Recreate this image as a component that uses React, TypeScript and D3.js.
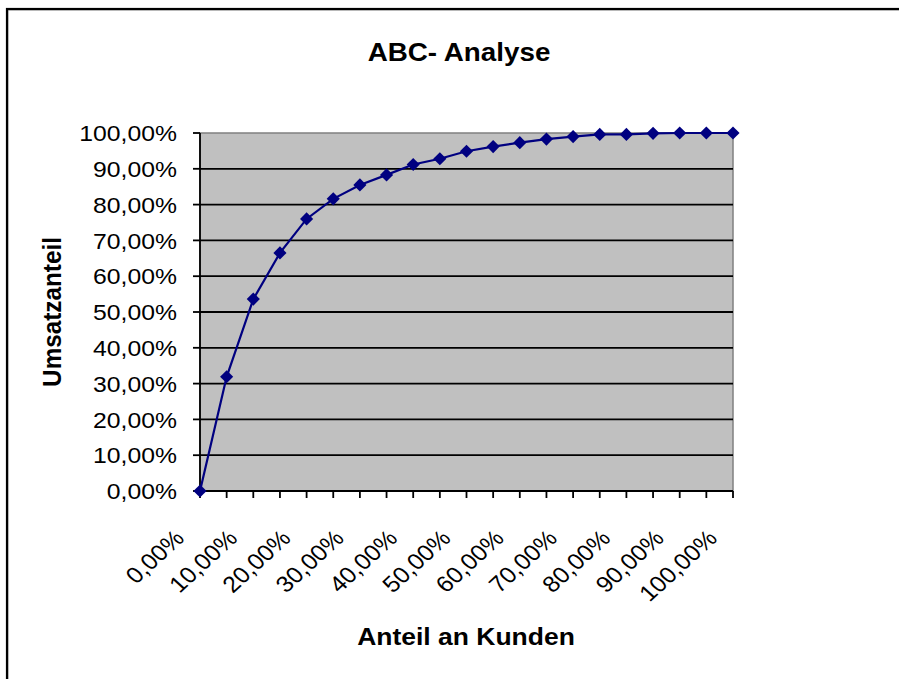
import React from "react";
import * as d3 from "d3";

const categories: string[] = [
  "0,00%", "5,00%", "10,00%", "15,00%", "20,00%", "25,00%", "30,00%", "35,00%", "40,00%", "45,00%",
  "50,00%", "55,00%", "60,00%", "65,00%", "70,00%", "75,00%", "80,00%", "85,00%", "90,00%", "95,00%", "100,00%",
];
const umsatzanteil: number[] = [
  0, 31.9, 53.6, 66.5, 76.0, 81.6, 85.5, 88.3, 91.2, 92.8, 94.9,
  96.2, 97.3, 98.3, 99.0, 99.6, 99.6, 99.9, 100, 100, 100,
];
const yTicks: number[] = [0, 10, 20, 30, 40, 50, 60, 70, 80, 90, 100];
const title = "ABC- Analyse";
const xTitle = "Anteil an Kunden";
const yTitle = "Umsatzanteil";

const W = 899;
const H = 679;
const plot = { left: 200, top: 133, right: 733, bottom: 491 };
const FONT = "'Liberation Sans', Arial, sans-serif";
const SX = 1.09;
const TICK_FS = 22.7;

export default function App() {
  const x = d3
    .scalePoint<string>()
    .domain(categories)
    .range([plot.left, plot.right]);
  const y = d3.scaleLinear().domain([0, 100]).range([plot.bottom, plot.top]);
  const line = d3
    .line<number>()
    .x((_, i) => x(categories[i]) as number)
    .y((d) => y(d));
  const fmt = (v: number) => v.toFixed(2).replace(".", ",") + "%";
  const diamond = d3.symbol().type(d3.symbolDiamond2).size(110)();

  return (
    <svg
      width={W}
      height={H}
      style={{ position: "absolute", left: 0, top: 0, background: "#fff" }}
    >
      <rect x={0} y={0} width={W} height={H} fill="#fff" />
      <rect x={7} y={9} width={1000} height={1000} fill="none" stroke="#999" strokeWidth={1} transform="translate(1,1)" />
      <rect x={7} y={9} width={1000} height={1000} fill="none" stroke="#000" strokeWidth={2.2} />

      <text
        transform={`translate(459,61) scale(${SX},1)`}
        textAnchor="middle"
        fontFamily={FONT}
        fontWeight="bold"
        fontSize={25.5}
      >
        {title}
      </text>

      <rect
        x={plot.left}
        y={plot.top}
        width={plot.right - plot.left}
        height={plot.bottom - plot.top}
        fill="#C0C0C0"
        stroke="#808080"
        strokeWidth={1.5}
      />
      {yTicks.map((t) => (
        <g key={t}>
          {t > 0 && t < 100 && (
            <line x1={plot.left} x2={plot.right} y1={y(t)} y2={y(t)} stroke="#000" strokeWidth={1.8} />
          )}
          <line x1={plot.left - 7} x2={plot.left} y1={y(t)} y2={y(t)} stroke="#000" strokeWidth={1.8} />
          <text
            transform={`translate(177,${y(t) + 8.1}) scale(${SX},1)`}
            textAnchor="end"
            fontFamily={FONT}
            fontSize={TICK_FS}
          >
            {fmt(t)}
          </text>
        </g>
      ))}
      <line x1={plot.left} x2={plot.left} y1={plot.top} y2={plot.bottom} stroke="#000" strokeWidth={1.8} />
      <line x1={plot.left} x2={plot.right} y1={plot.bottom} y2={plot.bottom} stroke="#000" strokeWidth={1.8} />
      {categories.map((c, i) => (
        <g key={c}>
          <line
            x1={x(c)}
            x2={x(c)}
            y1={plot.bottom}
            y2={plot.bottom + 7}
            stroke="#000"
            strokeWidth={1.8}
          />
          {i % 2 === 0 && (
            <text
              transform={`translate(${(x(c) as number) - 14.5},${539.5}) scale(${SX},1) rotate(-45)`}
              textAnchor="end"
              fontFamily={FONT}
              fontSize={TICK_FS}
            >
              {c}
            </text>
          )}
        </g>
      ))}

      <path d={line(umsatzanteil) || ""} fill="none" stroke="#000080" strokeWidth={2.2} />
      {umsatzanteil.map((v, i) => (
        <path
          key={i}
          d={diamond || ""}
          transform={`translate(${x(categories[i])},${y(v)})`}
          fill="#000080"
        />
      ))}

      <text
        transform={`translate(466,645) scale(${SX},1)`}
        textAnchor="middle"
        fontFamily={FONT}
        fontWeight="bold"
        fontSize={24.3}
      >
        {xTitle}
      </text>
      <text
        transform={`translate(61,312) scale(${SX},1) rotate(-90)`}
        textAnchor="middle"
        fontFamily={FONT}
        fontWeight="bold"
        fontSize={24.3}
      >
        {yTitle}
      </text>
    </svg>
  );
}
